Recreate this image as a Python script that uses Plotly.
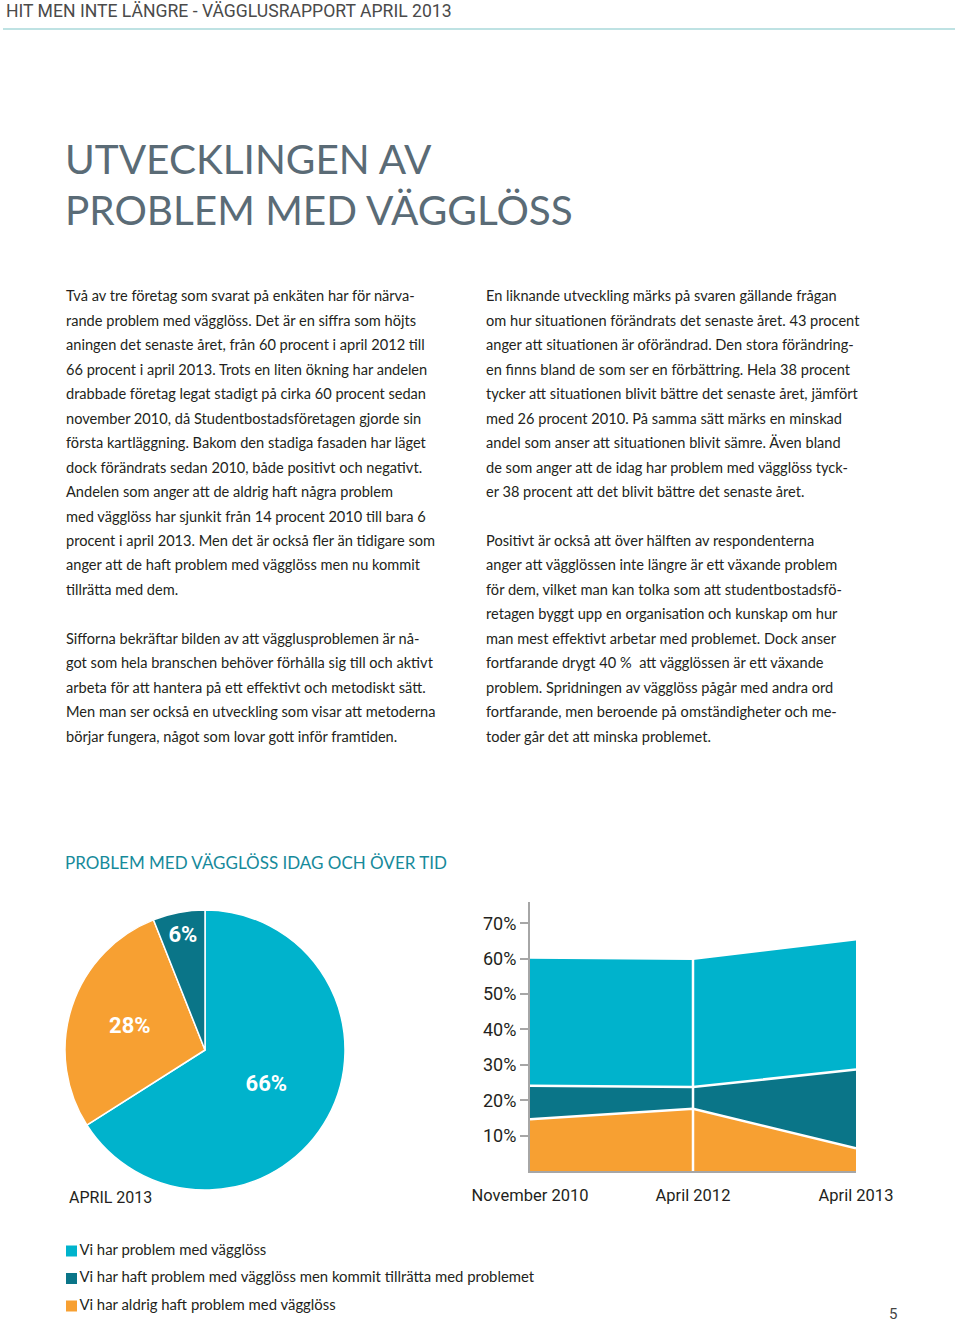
import plotly.graph_objects as go

W, H = 960, 1322

# --- data -------------------------------------------------------------
periods = ["November 2010", "April 2012", "April 2013"]
has_problem = [60.3, 60.0, 65.5]        # Vi har problem med vägglöss
had_problem_fixed = [24.1, 23.7, 28.7]  # Vi har haft problem ... tillrätta
never_problem = [14.6, 17.6, 6.4]       # Vi har aldrig haft problem

series_names = [
    "Vi har problem med vägglöss",
    "Vi har haft problem med vägglöss men kommit tillrätta med problemet",
    "Vi har aldrig haft problem med vägglöss",
]
series_colors = ["#00b3cc", "#0a7588", "#f7a032"]

pie_values = [66, 28, 6]
pie_names = [series_names[0], series_names[2], series_names[1]]
pie_colors = [series_colors[0], series_colors[2], series_colors[1]]

y_ticks = [10, 20, 30, 40, 50, 60, 70]

header_text = "HIT MEN INTE LÄNGRE - VÄGGLUSRAPPORT APRIL 2013"
title_lines = ["UTVECKLINGEN AV", "PROBLEM MED VÄGGLÖSS"]
chart_title = "PROBLEM MED VÄGGLÖSS IDAG OCH ÖVER TID"
pie_caption = "APRIL 2013"
page_number = "5"

left_column = [
    "Två av tre företag som svarat på enkäten har för närva-",
    "rande problem med vägglöss. Det är en siffra som höjts",
    "aningen det senaste året, från 60 procent i april 2012 till",
    "66 procent i april 2013. Trots en liten ökning har andelen",
    "drabbade företag legat stadigt på cirka 60 procent sedan",
    "november 2010, då Studentbostadsföretagen gjorde sin",
    "första kartläggning. Bakom den stadiga fasaden har läget",
    "dock förändrats sedan 2010, både positivt och negativt.",
    "Andelen som anger att de aldrig haft några problem",
    "med vägglöss har sjunkit från 14 procent 2010 till bara 6",
    "procent i april 2013. Men det är också fler än tidigare som",
    "anger att de haft problem med vägglöss men nu kommit",
    "tillrätta med dem.",
    "",
    "Sifforna bekräftar bilden av att vägglusproblemen är nå-",
    "got som hela branschen behöver förhålla sig till och aktivt",
    "arbeta för att hantera på ett effektivt och metodiskt sätt.",
    "Men man ser också en utveckling som visar att metoderna",
    "börjar fungera, något som lovar gott inför framtiden.",
]
right_column = [
    "En liknande utveckling märks på svaren gällande frågan",
    "om hur situationen förändrats det senaste året. 43 procent",
    "anger att situationen är oförändrad. Den stora förändring-",
    "en finns bland de som ser en förbättring. Hela 38 procent",
    "tycker att situationen blivit bättre det senaste året, jämfört",
    "med 26 procent 2010. På samma sätt märks en minskad",
    "andel som anser att situationen blivit sämre. Även bland",
    "de som anger att de idag har problem med vägglöss tyck-",
    "er 38 procent att det blivit bättre det senaste året.",
    "",
    "Positivt är också att över hälften av respondenterna",
    "anger att vägglössen inte längre är ett växande problem",
    "för dem, vilket man kan tolka som att studentbostadsfö-",
    "retagen byggt upp en organisation och kunskap om hur",
    "man mest effektivt arbetar med problemet. Dock anser",
    "fortfarande drygt 40 %  att vägglössen är ett växande",
    "problem. Spridningen av vägglöss pågår med andra ord",
    "fortfarande, men beroende på omständigheter och me-",
    "toder går det att minska problemet.",
]

# --- styling ----------------------------------------------------------
NARROW = "Roboto, Lato, sans-serif"
BODY = "Lato, Open Sans, sans-serif"
INK = "#231f20"
AXIS_GREY = "#a6a6a6"


def px_x(px):
    return px / W


def px_y(py):
    return 1 - py / H


fig = go.Figure()

# area chart: overlapping filled areas, back to front
for name, vals, color in zip(series_names, [has_problem, had_problem_fixed, never_problem], series_colors):
    fig.add_trace(go.Scatter(
        x=periods, y=vals, name=name, mode="lines",
        fill="tozeroy", fillcolor=color,
        line=dict(color="white", width=2.5),
        showlegend=False, hoverinfo="x+y+name",
        xaxis="x", yaxis="y",
    ))

# white separator at the middle survey
fig.add_shape(type="line", xref="x", yref="y",
              x0=periods[1], x1=periods[1], y0=0, y1=has_problem[1],
              line=dict(color="white", width=2.5), layer="above")

fig.add_trace(go.Pie(
    values=pie_values, labels=pie_names,
    marker=dict(colors=pie_colors, line=dict(color="white", width=1.5)),
    sort=False, direction="clockwise", rotation=0,
    texttemplate="%{value}%", textposition="inside",
    insidetextorientation="horizontal",
    textfont=dict(family=NARROW, size=22, color="white", weight="bold"),
    domain=dict(x=[px_x(65), px_x(345)], y=[px_y(1190), px_y(910)]),
    showlegend=False, hoverinfo="label+percent",
))

# legend drawn as square markers in their own axis
fig.add_trace(go.Scatter(
    x=[0] * len(series_names), y=list(range(len(series_names))),
    mode="markers+text", text=series_names, textposition="middle right",
    marker=dict(symbol="square", size=11, color=series_colors),
    textfont=dict(family=BODY, size=14.9, color=INK),
    cliponaxis=False, showlegend=False, hoverinfo="skip",
    xaxis="x3", yaxis="y3",
))

annotations = [
    dict(text=header_text, x=px_x(4), y=px_y(11),
         font=dict(family=NARROW, size=17.6, color="#4a4a4a")),
    dict(text=chart_title, x=px_x(63), y=px_y(862),
         font=dict(family=BODY, size=17, color="#168a9b")),
    dict(text=pie_caption, x=px_x(67), y=px_y(1197),
         font=dict(family=NARROW, size=16, color=INK)),
    dict(text=page_number, x=px_x(887), y=px_y(1314),
         font=dict(family=NARROW, size=15, color="#444444")),
]
for i, line in enumerate(title_lines):
    annotations.append(dict(text=line, x=px_x(63), y=px_y(158 + i * 51),
                            font=dict(family=BODY, size=40.5, color="#5a6b76")))
for col_x, lines in ((64, left_column), (484, right_column)):
    for i, line in enumerate(lines):
        if line:
            annotations.append(dict(text=line, x=px_x(col_x), y=px_y(296 + i * 24.45),
                                    font=dict(family=BODY, size=14.6, color=INK)))
for a in annotations:
    a.update(xref="paper", yref="paper", xanchor="left", yanchor="middle", showarrow=False)

fig.update_layout(
    width=W, height=H,
    margin=dict(l=0, r=0, t=0, b=0, pad=0, autoexpand=False),
    paper_bgcolor="white", plot_bgcolor="white",
    showlegend=False,
    annotations=annotations,
    shapes=list(fig.layout.shapes) + [
        dict(type="line", xref="paper", yref="paper",
             x0=px_x(3), x1=px_x(955), y0=px_y(29), y1=px_y(29),
             line=dict(color="#a8d8da", width=1.5)),
    ],
    xaxis=dict(
        domain=[px_x(530), px_x(856)], type="category", range=[0, 2],
        showline=True, linecolor=AXIS_GREY, linewidth=2,
        showgrid=False, zeroline=False, ticks="",
        tickfont=dict(family=NARROW, size=16.5, color=INK),
        ticklabelstandoff=8, automargin=False,
        anchor="y",
    ),
    yaxis=dict(
        domain=[px_y(1171), px_y(902)], range=[0, 76],
        showline=True, linecolor=AXIS_GREY, linewidth=2,
        showgrid=False, zeroline=False,
        ticks="outside", ticklen=8, tickwidth=2, tickcolor=AXIS_GREY,
        tickvals=y_ticks, ticktext=[f"{v}%" for v in y_ticks],
        tickfont=dict(family=NARROW, size=18, color=INK),
        automargin=False, anchor="x",
    ),
    xaxis3=dict(domain=[px_x(71.5), 1], range=[0, 1], visible=False, anchor="y3"),
    yaxis3=dict(domain=[px_y(1306), px_y(1251)], range=[2, 0], visible=False, anchor="x3"),
)

fig.write_html("out.html", config={"displayModeBar": False},
               post_script="document.body.style.margin = '0px';")
